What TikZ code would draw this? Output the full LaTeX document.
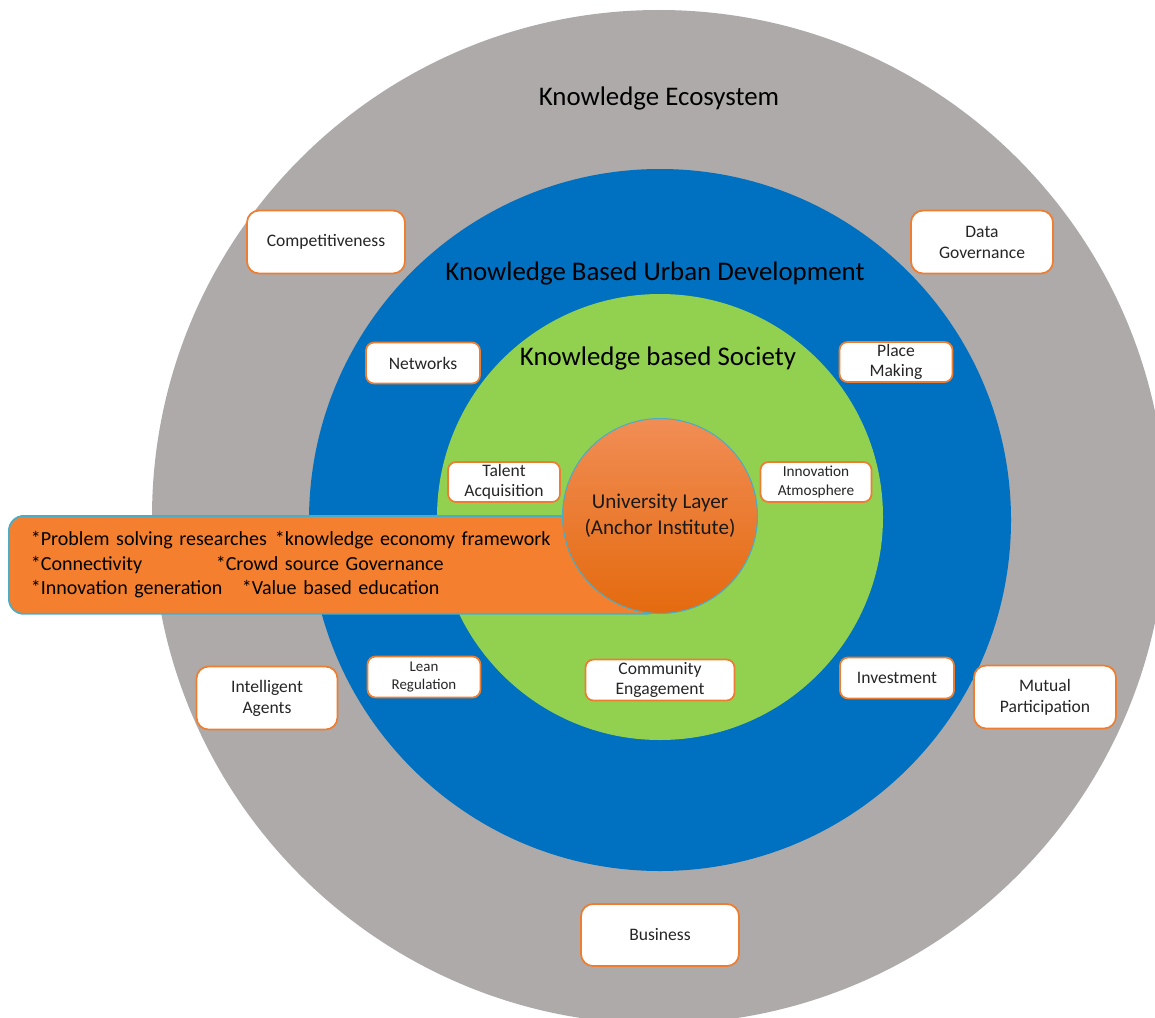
\documentclass[tikz,border=0pt]{standalone}
\usepackage{fontspec}
\setmainfont{Carlito}
\definecolor{ringgray}{HTML}{AEAAAA}
\definecolor{ringblue}{HTML}{0070C0}
\definecolor{ringgreen}{HTML}{92D050}
\definecolor{boxorange}{HTML}{ED7D31}
\definecolor{coreorange}{HTML}{F4802F}
\definecolor{coretop}{HTML}{F18D55}
\definecolor{corebottom}{HTML}{E46A0E}
\definecolor{coreedge}{HTML}{4BACC6}

\begin{document}
\begin{tikzpicture}[x=0.02cm,y=-0.02cm,
    big box/.style={draw=boxorange,line width=1pt,fill=white,rounded corners=0.24cm,align=center,
        minimum width=3.16cm,minimum height=1.26cm,font=\fontsize{10}{12}\selectfont,text=black!85},
    small box/.style={draw=boxorange,line width=1pt,fill=white,rounded corners=0.16cm,align=center,
        minimum width=2.26cm,minimum height=0.82cm,inner sep=1pt,font=\fontsize{10}{11.5}\selectfont,text=black!85},
    title/.style={font=\fontsize{15.3}{18}\selectfont,text=black}]

    \useasboundingbox (0,0) rectangle (1155,1017);
    \clip (0,0) rectangle (1155,1017);

    % rings
    \fill[ringgray] (659,517) circle (507);
    \fill[ringblue] (660,520) circle (351);
    \fill[ringgreen] (660,517) circle (223);

    % orange list box behind the core
    \node[draw=coreedge,line width=1pt,fill=coreorange,rounded corners=0.3cm,anchor=north west,
        text width=12.16cm,inner xsep=0.44cm,minimum height=1.96cm,align=left,
        font=\fontsize{11.4}{13.9}\selectfont,text=black] (list) at (8,515)
        {\makebox[4.88cm][l]{*Problem solving researches}*knowledge economy framework\\
         \makebox[3.7cm][l]{*Connectivity}*Crowd source Governance\\
         \makebox[4.22cm][l]{*Innovation generation}*Value based education};

    \node[circle,draw=coreedge,line width=0.6pt,top color=coretop,bottom color=corebottom,
        minimum size=3.9cm,align=center,font=\fontsize{12}{15}\selectfont,text=black!90] (core) at (660,516)
        {University Layer\\(Anchor Institute)};

    % titles
    \node[title] (eco) at (659,98) {Knowledge Ecosystem};
    \node[title] (kbud) at (655,273) {Knowledge Based Urban Development};
    \node[title] (kbs) at (658,358) {Knowledge based Society};

    % outer ring
    \node[big box] (comp) at (326,242) {Competitiveness};
    \node[big box,minimum width=2.84cm] (data) at (982,242) {Data\\Governance};
    \node[big box,minimum width=2.82cm] (agents) at (267,698) {Intelligent\\Agents};
    \node[big box,minimum width=2.84cm] (mutual) at (1045,697) {Mutual\\Participation};
    \node[big box,minimum height=1.24cm] (business) at (660,935) {Business};

    % middle ring
    \node[small box,minimum width=2.28cm] (net) at (423,363) {Networks};
    \node[small box,minimum height=0.8cm] (place) at (896,362) {Place\\Making};
    \node[small box,font=\fontsize{8.5}{10}\selectfont] (lean) at (424,677) {Lean\\Regulation};
    \node[small box,minimum width=2.28cm] (invest) at (897,678) {Investment};

    % inner ring
    \node[small box,minimum width=2.24cm,minimum height=0.8cm] (talent) at (504,482) {Talent\\Acquisition};
    \node[small box,minimum width=2.22cm,minimum height=0.8cm,font=\fontsize{8.7}{10.5}\selectfont] (atmos) at (816,482) {Innovation\\Atmosphere};
    \node[small box,minimum width=2.98cm] (comm) at (660,680) {Community\\Engagement};
\end{tikzpicture}
\end{document}
